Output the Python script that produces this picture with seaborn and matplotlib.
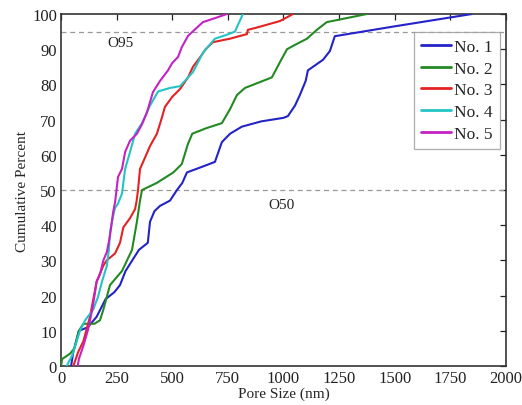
import numpy as np
import pandas as pd
import matplotlib
matplotlib.use("Agg")
import matplotlib.pyplot as plt
import seaborn as sns

series_names = ["No. 1", "No. 2", "No. 3", "No. 4", "No. 5"]

no1_x = [45, 55, 80, 120, 160, 200, 240, 265, 290, 320, 350, 390, 400, 420, 445, 490, 521, 545, 566, 630, 692, 723, 760, 813, 900, 1000, 1020, 1052, 1074, 1100, 1110, 1178, 1209, 1231, 1500, 1847]
no1_y = [0, 4, 10, 11, 14, 19, 21, 23, 27, 30, 33, 35, 41, 44, 45.5, 47, 50, 52, 55, 56.5, 58, 63.6, 66, 68, 69.5, 70.5, 71, 74, 77, 81, 84, 87, 89.5, 93.7, 96.5, 100]

no2_x = [0, 5, 40, 60, 80, 100, 150, 175, 190, 220, 274, 319, 341, 355, 364, 430, 505, 543, 570, 590, 650, 723, 760, 791, 827, 948, 990, 1016, 1060, 1106, 1150, 1195, 1375]
no2_y = [0, 2, 3.5, 5, 10, 12, 12, 13, 16, 23, 27, 33, 41, 47, 50, 52, 55, 57.4, 63, 66, 67.5, 69, 73, 77, 79, 82, 87, 90, 91.5, 93, 95.5, 97.7, 100]

no3_x = [55, 77, 100, 130, 145, 160, 190, 205, 243, 265, 280, 310, 333, 340, 346, 355, 369, 400, 431, 454, 467, 499, 535, 571, 593, 625, 650, 683, 760, 836, 840, 900, 984, 1043]
no3_y = [0, 4, 7, 14, 19, 24, 28.5, 30, 32, 35, 39.4, 42, 44.6, 47, 50, 56, 58, 62.5, 66, 70.7, 73.6, 76.4, 78.7, 82, 85, 87.7, 90, 92, 93, 94.3, 95.5, 96.5, 98, 100]

no4_x = [25, 50, 70, 85, 108, 144, 166, 184, 206, 215, 220, 234, 243, 255, 274, 288, 310, 333, 364, 400, 436, 490, 535, 593, 638, 692, 740, 782, 796, 818]
no4_y = [0, 3, 7, 10, 13, 16, 19.6, 24, 28.5, 33, 38, 42.6, 45, 46, 49, 56, 60.8, 66, 69, 74, 78, 79, 79.5, 83.5, 89, 93, 94, 95, 97, 100]

no5_x = [75, 80, 100, 122, 140, 153, 160, 175, 190, 206, 220, 234, 243, 256, 274, 288, 310, 341, 364, 386, 400, 413, 445, 481, 499, 526, 543, 571, 600, 638, 700, 746]
no5_y = [0, 2, 5.7, 10.5, 16, 21, 24, 26, 30, 32.4, 37, 43.7, 46.6, 53.7, 56, 60.8, 64, 66, 68.7, 72, 75, 77.8, 81, 84, 86, 87.8, 90.6, 93.8, 95.5, 97.7, 99, 100]

x_ticks = [0, 250, 500, 750, 1000, 1250, 1500, 1750, 2000]
y_ticks = [0, 10, 20, 30, 40, 50, 60, 70, 80, 90, 100]
ref_levels = [50, 95]
ref_labels = ["O50", "O95"]

colors = ["#2323c8", "#238a23", "#e52222", "#22c4c4", "#c422c4"]

frames = []
for name, xs, ys in zip(series_names,
                        [no1_x, no2_x, no3_x, no4_x, no5_x],
                        [no1_y, no2_y, no3_y, no4_y, no5_y]):
    frames.append(pd.DataFrame({"size": xs, "pct": ys, "sample": name}))
df = pd.concat(frames, ignore_index=True)

sns.set_style("white")
plt.rcParams["font.family"] = ["Liberation Serif", "DejaVu Serif"]

fig = plt.figure(figsize=(5.22, 4.06), dpi=100)
ax = fig.add_axes([0.117, 0.096, 0.852, 0.867])

for lvl in ref_levels:
    ax.axhline(lvl, color="#999999", lw=0.9, ls=(0, (4, 3)), zorder=1)

sns.lineplot(data=df, x="size", y="pct", hue="sample", palette=colors,
             estimator=None, sort=False, lw=1.5, ax=ax, zorder=3)

ax.text(265, 92, ref_labels[1], ha="center", va="center", fontsize=11, color="#222222")
ax.text(990, 46, ref_labels[0], ha="center", va="center", fontsize=11, color="#222222")

ax.set_xlim(0, 2000)
ax.set_ylim(0, 100)
ax.set_xticks(x_ticks)
ax.set_yticks(y_ticks)
ax.tick_params(direction="in", top=True, right=True, length=4, width=0.9,
               labelsize=12, colors="#222222", pad=3)
ax.tick_params(axis="x", labeltop=False)
ax.tick_params(axis="y", labelright=False)
for s in ax.spines.values():
    s.set_color("#333333")
    s.set_linewidth(1.2)
    s.set_visible(True)

ax.set_xlabel("Pore Size (nm)", fontsize=11, labelpad=0)
ax.set_ylabel("Cumulative Percent", fontsize=11, labelpad=2)

leg = ax.legend(loc="upper right", bbox_to_anchor=(0.986, 0.949), fontsize=12.5,
                frameon=True, fancybox=False, handlelength=1.75, handletextpad=0.15,
                borderpad=0.4, labelspacing=0.32, borderaxespad=0)
leg.get_frame().set_edgecolor("#999999")
leg.get_frame().set_linewidth(0.9)
for line in leg.get_lines():
    line.set_linewidth(2.0)

fig.savefig("out.png", dpi=100)
